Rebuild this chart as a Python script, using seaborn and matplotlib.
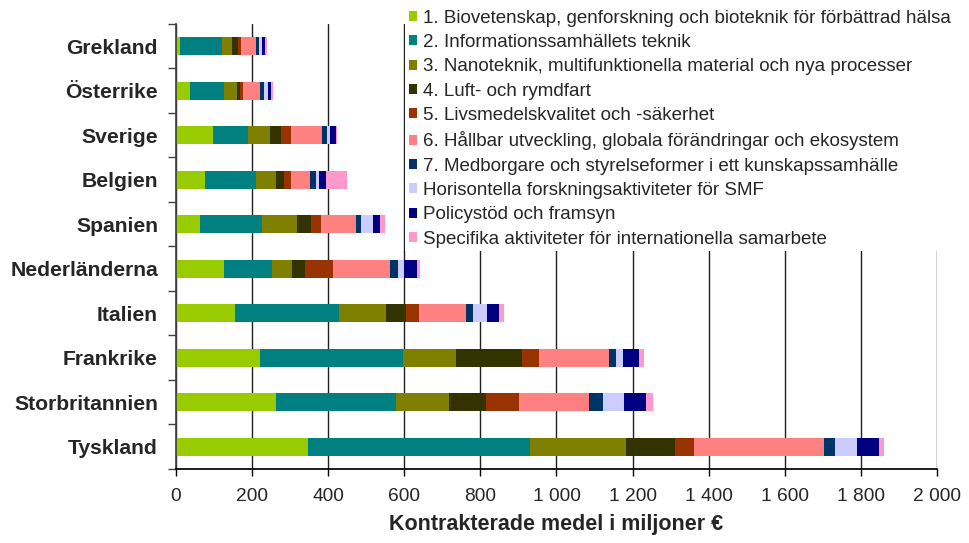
import numpy as np
import pandas as pd
import matplotlib
matplotlib.use("Agg")
import matplotlib.pyplot as plt
import seaborn as sns
from matplotlib.patches import Patch
from matplotlib.ticker import FixedLocator

# -----------------------------
# DATA (miljoner €)
# -----------------------------
countries = ["Grekland", "Österrike", "Sverige", "Belgien", "Spanien",
             "Nederländerna", "Italien", "Frankrike", "Storbritannien", "Tyskland"]

bio = [11, 38, 96, 75, 64, 125, 154, 222, 264, 346]
info = [111, 89, 92, 134, 163, 126, 274, 374, 313, 584]
nano = [24, 34, 58, 55, 90, 55, 124, 139, 140, 253]
luft = [16, 8, 29, 21, 39, 32, 53, 174, 97, 129]
livs = [8, 8, 26, 18, 26, 74, 34, 45, 87, 50]
hall = [39, 45, 84, 50, 92, 150, 124, 184, 184, 340]
medb = [8, 8, 11, 16, 11, 21, 18, 18, 37, 29]
horis = [8, 11, 8, 8, 34, 16, 37, 18, 55, 58]
policy = [8, 8, 16, 18, 18, 34, 32, 42, 58, 58]
spec = [7, 5, 3, 55, 11, 8, 11, 13, 18, 13]

labels = [
    "1. Biovetenskap, genforskning och bioteknik för förbättrad hälsa",
    "2. Informationssamhällets teknik",
    "3. Nanoteknik, multifunktionella material och nya processer",
    "4. Luft- och rymdfart",
    "5. Livsmedelskvalitet och -säkerhet",
    "6. Hållbar utveckling, globala förändringar och ekosystem",
    "7. Medborgare och styrelseformer i ett kunskapssamhälle",
    "Horisontella forskningsaktiviteter för SMF",
    "Policystöd och framsyn",
    "Specifika aktiviteter för internationella samarbete",
]
colors = ["#99CC00", "#008080", "#808000", "#333300", "#993300",
          "#FF8080", "#003366", "#CCCCFF", "#000080", "#FF99CC"]

series = [bio, info, nano, luft, livs, hall, medb, horis, policy, spec]
df = pd.DataFrame(dict(zip(labels, series)), index=countries)
cum = df.cumsum(axis=1)

# -----------------------------
# STYLE
# -----------------------------
sns.set_theme(style="white")
plt.rcParams["font.family"] = ["Liberation Sans", "DejaVu Sans"]

fig = plt.figure(figsize=(9.7, 5.43), dpi=100)
ax = fig.add_axes([176 / 970, 1 - 469 / 543, (937 - 176) / 970, (469 - 24) / 543])

# stacked bars: draw cumulative totals from the largest down
for col, color in reversed(list(zip(labels, colors))):
    sns.barplot(
        x=cum[col].values,
        y=countries,
        orient="h",
        color=color,
        saturation=1,
        width=0.4,
        linewidth=0,
        ax=ax,
    )

ax.set_xlim(0, 2000)
ax.set_ylim(9.5, -0.5)
ticks = np.arange(0, 2001, 200)
ax.set_xticks(ticks)
ax.set_xticklabels([f"{t:,}".replace(",", " ") for t in ticks], fontsize=13.8)
ax.set_axisbelow(True)
ax.xaxis.grid(True, color="#202020", linewidth=1)
ax.yaxis.grid(False)

ax.set_yticks(range(len(countries)))
ax.set_yticklabels(countries, fontsize=15.2, fontweight="bold")
ax.yaxis.set_minor_locator(FixedLocator(np.arange(-0.5, 10, 1)))
ax.tick_params(axis="y", which="major", length=0, pad=13)
ax.tick_params(axis="y", which="minor", left=True, length=6, width=1, color="#404040")
ax.tick_params(axis="x", bottom=True, length=5, width=1, color="black", pad=9)

for s in ["top", "right"]:
    ax.spines[s].set_visible(False)
ax.spines["left"].set_color("#404040")
ax.spines["bottom"].set_color("black")

ax.set_xlabel("Kontrakterade medel i miljoner €", fontsize=15.5, fontweight="bold", labelpad=6)
ax.set_ylabel("")

handles = [Patch(facecolor=c, edgecolor="none") for c in colors]
leg = fig.legend(
    handles, labels,
    loc="upper left",
    bbox_to_anchor=(405 / 970, 1 - 6 / 543),
    fontsize=13.5,
    frameon=True,
    facecolor="white",
    edgecolor="none",
    framealpha=1,
    fancybox=False,
    borderpad=0.2,
    borderaxespad=0,
    handlelength=0.45,
    handleheight=0.45,
    handletextpad=0.3,
    labelspacing=0.39,
)
leg.set_zorder(10)

fig.savefig("out.png", dpi=100)
